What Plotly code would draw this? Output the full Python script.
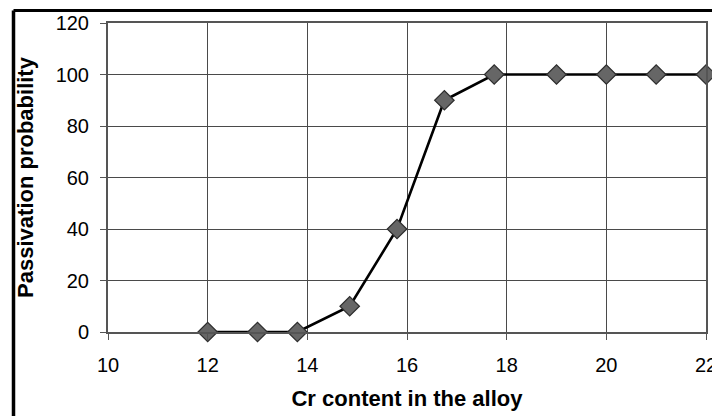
import plotly.graph_objects as go

cr_content = [12, 13, 13.8, 14.85, 15.8, 16.75, 17.75, 19, 20, 21, 22]
passivation = [0, 0, 0, 10, 40, 90, 100, 100, 100, 100, 100]
x_ticks = [10, 12, 14, 16, 18, 20, 22]
y_ticks = [0, 20, 40, 60, 80, 100, 120]

FONT = "Arial, Liberation Sans, sans-serif"
GRID = "#4a4a4a"

fig = go.Figure()
fig.add_trace(go.Scatter(
    x=cr_content, y=passivation, mode="lines+markers",
    line=dict(color="#000000", width=2.6),
    marker=dict(symbol="diamond", size=15, color="#666666",
                line=dict(color="#2e2e2e", width=1.2)),
    cliponaxis=False, showlegend=False,
))

W, H = 712, 416
L, R, T, B = 108, 6, 23, 84
pw, ph = W - L - R, H - T - B

def px_x(p):
    return (p - L) / pw

def px_y(p):
    return (H - B - p) / ph

# outer frame (left and top black borders of the original figure)
fig.add_shape(type="line", xref="paper", yref="paper",
              x0=px_x(13.5), x1=px_x(730), y0=px_y(10.5), y1=px_y(10.5),
              line=dict(color="black", width=3))
fig.add_shape(type="line", xref="paper", yref="paper",
              x0=px_x(13.5), x1=px_x(13.5), y0=px_y(10.5), y1=px_y(430),
              line=dict(color="black", width=3.5))

fig.update_layout(
    width=W, height=H,
    margin=dict(l=L, r=R, t=T, b=B, autoexpand=False),
    paper_bgcolor="white", plot_bgcolor="white",
    font=dict(family=FONT, color="black"),
    xaxis=dict(
        range=[10, 22], tickvals=x_ticks, ticktext=[str(v) for v in x_ticks],
        showgrid=True, gridcolor=GRID, gridwidth=1,
        showline=True, linecolor="#555555", linewidth=2, mirror=True,
        ticks="outside", ticklen=6, tickcolor="#555555", tickwidth=1,
        tickfont=dict(size=20, family=FONT), ticklabelstandoff=8,
        ticklabeloverflow="allow",
        zeroline=False, automargin=False,
        title=dict(text="<b>Cr content in the alloy</b>",
                   font=dict(size=22, family=FONT), standoff=16),
    ),
    yaxis=dict(
        range=[0, 120], tickvals=y_ticks, ticktext=[str(v) for v in y_ticks],
        showgrid=True, gridcolor=GRID, gridwidth=1,
        showline=True, linecolor="#555555", linewidth=2, mirror=True,
        ticks="outside", ticklen=6, tickcolor="#555555", tickwidth=1,
        tickfont=dict(size=20, family=FONT), ticklabelstandoff=7,
        ticklabeloverflow="allow",
        zeroline=False, automargin=False,
        title=dict(text="<b>Passivation probability</b>",
                   font=dict(size=22, family=FONT), standoff=16),
    ),
)

fig.write_html(
    "out.html",
    config={"displayModeBar": False},
    post_script="document.body.style.margin='0';document.body.style.padding='0';",
)
